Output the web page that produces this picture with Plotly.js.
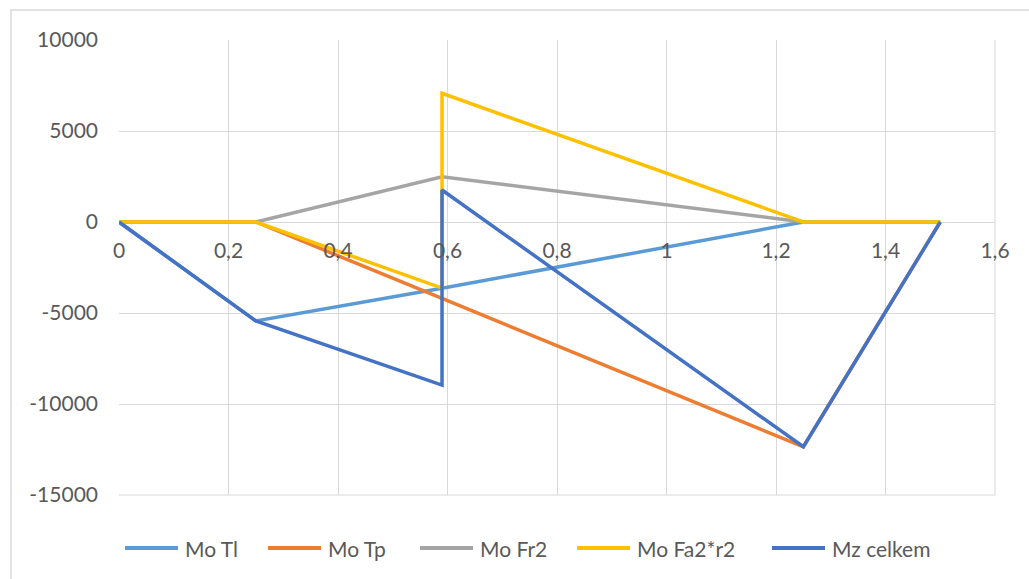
<!DOCTYPE html>
<html>
<head>
<meta charset="utf-8">
<script src="https://cdn.plot.ly/plotly-3.0.1.min.js"></script>
<style>
  html, body { margin: 0; padding: 0; background: #ffffff; }
  #chart { width: 1029px; height: 579px; }
</style>
</head>
<body>
<div id="chart"></div>
<script>
// Bending moments along the shaft (position in m, moment in N·mm)
const positions = [0, 0.25, 0.59, 0.59, 1.25, 1.5];

const moTl   = [0, -5440, -3640, -3640, 0, 0];
const moTp   = [0, 0, -4200, -4200, -12350, 0];
const moFr2  = [0, 0, 2490, 2490, 0, 0];
const moFa2  = [0, 0, -3630, 7070, 0, 0];
const mzTot  = [0, -5440, -8960, 1760, -12350, 0];

const seriesNames  = ["Mo Tl", "Mo Tp", "Mo Fr2", "Mo Fa2*r2", "Mz celkem"];
const seriesValues = [moTl, moTp, moFr2, moFa2, mzTot];
const seriesColors = ["#5B9BD5", "#ED7D31", "#A5A5A5", "#FFC000", "#4472C4"];

const xTickVals = [0, 0.2, 0.4, 0.6, 0.8, 1, 1.2, 1.4, 1.6];
const xTickText = ["0", "0,2", "0,4", "0,6", "0,8", "1", "1,2", "1,4", "1,6"];
const yTickVals = [10000, 5000, 0, -5000, -10000, -15000];
const yTickText = ["10000", "5000", "0", "-5000", "-10000", "-15000"];

const textColor = "#595959";
const gridColor = "#D9D9D9";
const fontFamily = "Lato, 'Liberation Sans', sans-serif";
const fontSize = 21;

// Page geometry (pixels)
const W = 1029, H = 579;
const M = { l: 119, r: 34, t: 40, b: 84 };
const plotW = W - M.l - M.r;
const plotH = H - M.t - M.b;
const px2paperX = px => (px - M.l) / plotW;
const px2paperY = py => (H - M.b - py) / plotH;

// Legend row below the plot: sample line then label, per series
const legendY = 548;
const legendLineStart = [125, 268, 420, 577, 772];
const legendLineLen = 53;
const legendTextGap = 5;

const traces = seriesNames.map((name, i) => ({
  type: "scatter",
  mode: "lines",
  name: name,
  x: positions,
  y: seriesValues[i],
  line: { color: seriesColors[i], width: 3.5 },
  hoverinfo: "x+y+name",
  showlegend: false
}));

const legendShapes = seriesNames.map((name, i) => ({
  type: "line", xref: "paper", yref: "paper",
  x0: px2paperX(legendLineStart[i]),
  x1: px2paperX(legendLineStart[i] + legendLineLen),
  y0: px2paperY(legendY), y1: px2paperY(legendY),
  line: { color: seriesColors[i], width: 4 }
}));

const legendLabels = seriesNames.map((name, i) => ({
  text: name, showarrow: false,
  xref: "paper", yref: "paper",
  x: px2paperX(legendLineStart[i] + legendLineLen + legendTextGap),
  y: px2paperY(legendY),
  xanchor: "left", yanchor: "middle",
  font: { family: fontFamily, size: fontSize, color: textColor }
}));

const layout = {
  width: W,
  height: H,
  margin: M,
  paper_bgcolor: "#ffffff",
  plot_bgcolor: "#ffffff",
  font: { family: fontFamily, color: textColor, size: fontSize },
  showlegend: false,
  xaxis: {
    range: [0, 1.6],
    tickvals: xTickVals,
    ticktext: xTickText,
    showgrid: true,
    gridcolor: gridColor,
    gridwidth: 1,
    zeroline: false,
    showline: false,
    ticks: "",
    anchor: "free",
    position: 0.6,
    ticklabelstandoff: 14,
    tickfont: { family: fontFamily, size: fontSize, color: textColor },
    fixedrange: true
  },
  yaxis: {
    range: [-15000, 10000],
    tickvals: yTickVals,
    ticktext: yTickText,
    showgrid: true,
    gridcolor: gridColor,
    gridwidth: 1,
    zeroline: true,
    zerolinecolor: gridColor,
    zerolinewidth: 1,
    showline: false,
    ticks: "",
    ticklabelstandoff: 20,
    tickfont: { family: fontFamily, size: fontSize, color: textColor },
    fixedrange: true
  },
  annotations: legendLabels,
  shapes: [
    // right and bottom edges of the plot area
    { type: "line", xref: "paper", yref: "paper", x0: 1, x1: 1, y0: 0, y1: 1,
      line: { color: gridColor, width: 1 }, layer: "below" },
    { type: "line", xref: "paper", yref: "paper", x0: 0, x1: 1, y0: 0, y1: 0,
      line: { color: gridColor, width: 1 }, layer: "below" },
    // chart frame
    { type: "rect", xref: "paper", yref: "paper",
      x0: px2paperX(11), x1: px2paperX(1040), y0: px2paperY(590), y1: px2paperY(10),
      line: { color: gridColor, width: 1.5 }, fillcolor: "rgba(0,0,0,0)", layer: "below" }
  ].concat(legendShapes)
};

Plotly.newPlot("chart", traces, layout, { displayModeBar: false, staticPlot: true });
</script>
</body>
</html>
